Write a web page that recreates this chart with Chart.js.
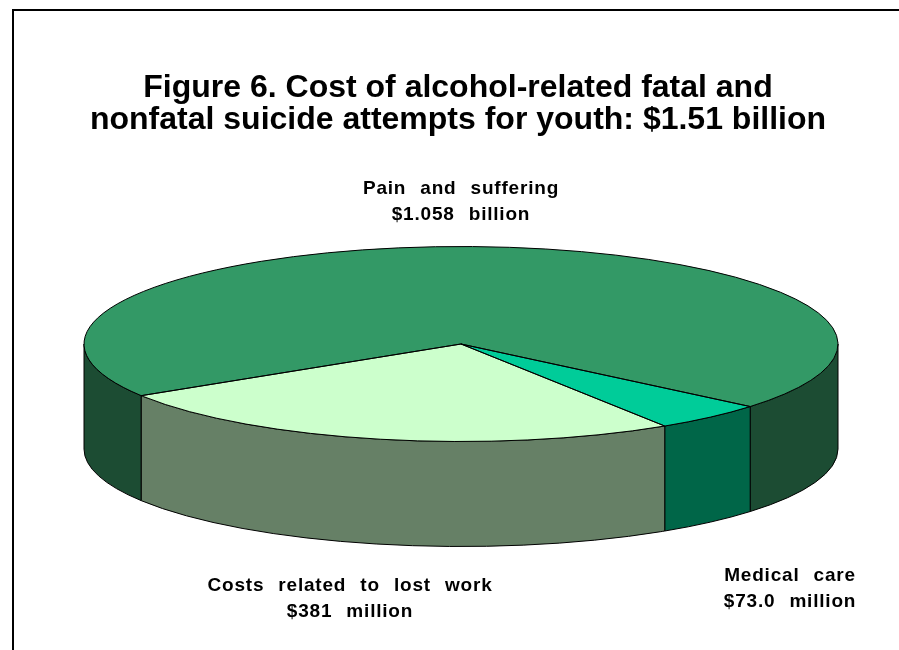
<!DOCTYPE html>
<html>
<head>
<meta charset="utf-8">
<script src="https://cdn.jsdelivr.net/npm/chart.js@4"></script>
<style>
  html, body { margin: 0; padding: 0; background: #fff; overflow: hidden; }
  #frame {
    position: absolute; left: 12px; top: 9px; width: 2000px; height: 2000px;
    border-left: 2px solid #000; border-top: 2px solid #000;
  }
  #pie_chart { position: absolute; left: 0; top: 0; }
</style>
</head>
<body>
<div id="frame"></div>
<canvas id="pie_chart" width="899" height="650"></canvas>
<script>
// chart data
const titleLines  = ["Figure 6. Cost of alcohol-related fatal and",
                     "nonfatal suicide attempts for youth: $1.51 billion"];
const categories  = ["Pain and suffering", "Medical care", "Costs related to lost work"];
const valueLabels = ["$1.058 billion", "$73.0 million", "$381 million"];
const costs       = [1058, 73.0, 381];   // in $ millions

const topColors  = ["#339966", "#00cc99", "#ccffcc"];
const sideColors = ["#1c4c33", "#006648", "#668066"];

const FONT = "'Liberation Sans', Arial, sans-serif";

// 3D look: pie is squashed vertically and given a wall
const pieCenter = { x: 461, y: 344 };
const tilt  = 0.2586;
const depth = 105;

// where the slice captions sit (same order as categories)
const labelSpots = [
  { x: 461, y: 189 },
  { x: 790, y: 576 },
  { x: 350, y: 586 }
];

const pie3d = {
  id: "pie3d",
  beforeDatasetsDraw(chart) {
    const ctx = chart.ctx;
    const arcs = chart.getDatasetMeta(0).data;
    const cx = pieCenter.x, cy = pieCenter.y;

    ctx.save();
    ctx.lineWidth = 1;
    ctx.strokeStyle = "#000";
    arcs.forEach(function(arc, i) {
      const p = arc.getProps(["startAngle", "endAngle", "outerRadius"], true);
      const rx = p.outerRadius, ry = rx * tilt;
      // only the front half (0..PI) of the wall is visible
      for (let k = 0; k < 3; k++) {
        const a1 = Math.max(p.startAngle, 2 * Math.PI * k);
        const a2 = Math.min(p.endAngle, 2 * Math.PI * k + Math.PI);
        if (a2 <= a1) continue;
        ctx.beginPath();
        ctx.ellipse(cx, cy, rx, ry, 0, a1, a2);
        ctx.ellipse(cx, cy + depth, rx, ry, 0, a2, a1, true);
        ctx.closePath();
        ctx.fillStyle = sideColors[i];
        ctx.fill();
        ctx.stroke();
      }
    });
    ctx.restore();

    // squash the top face that Chart.js draws
    const first = arcs[0];
    ctx.save();
    ctx.translate(cx, cy);
    ctx.scale(1, tilt);
    ctx.translate(-first.x, -first.y);
  },

  afterDatasetsDraw(chart) {
    const ctx = chart.ctx;
    ctx.restore();

    const arcs = chart.getDatasetMeta(0).data;
    const cx = pieCenter.x, cy = pieCenter.y;
    ctx.save();
    ctx.lineWidth = 1;
    ctx.strokeStyle = "#000";
    arcs.forEach(function(arc) {
      const p = arc.getProps(["startAngle", "endAngle", "outerRadius"], true);
      ctx.beginPath();
      ctx.moveTo(cx, cy);
      ctx.ellipse(cx, cy, p.outerRadius, p.outerRadius * tilt, 0, p.startAngle, p.endAngle);
      ctx.closePath();
      ctx.stroke();
    });
    ctx.restore();
  },

  afterDraw(chart) {
    const ctx = chart.ctx;
    ctx.save();
    ctx.font = "bold 19px " + FONT;
    ctx.fillStyle = "#000";
    ctx.textAlign = "center";
    ctx.textBaseline = "middle";
    ctx.letterSpacing = "0.8px";
    ctx.wordSpacing = "8px";
    categories.forEach(function(name, i) {
      const s = labelSpots[i];
      ctx.fillText(name, s.x, s.y);
      ctx.fillText(valueLabels[i], s.x, s.y + 26);
    });
    ctx.restore();
  }
};

document.addEventListener("DOMContentLoaded", function() {
  const context = document.getElementById("pie_chart").getContext("2d");
  const chart = new Chart(context, {

    type: "pie",

    data: {
      labels: categories,

      datasets: [{
        data:            costs,
        backgroundColor: topColors,
        borderWidth:     0,
        clip:            false
      }]
    },

    options: {
      responsive: false,
      animation:  false,
      events:     [],
      rotation:   238,
      radius:     377,
      layout: { padding: { left: 17 } },
      plugins: {
        legend:  { display: false },
        tooltip: { enabled: false },
        title: {
          display: true,
          text:    titleLines,
          color:   "#000",
          font:    { family: FONT, size: 32, weight: "bold", lineHeight: 1.0 },
          padding: { top: 72, bottom: 20 }
        }
      }
    },

    plugins: [pie3d]
  });
});
</script>
</body>
</html>
